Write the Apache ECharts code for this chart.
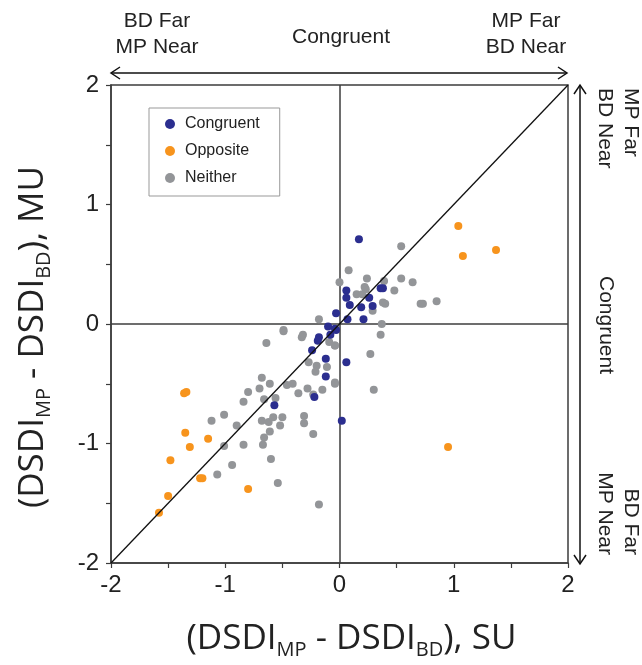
<!DOCTYPE html>
<html>
<head>
<meta charset="utf-8">
<script src="https://cdn.jsdelivr.net/npm/echarts@6/dist/echarts.min.js"></script>
<style>html,body{margin:0;padding:0;background:#fff}#c{width:642px;height:665px}</style>
</head>
<body>
<div id="c"></div>
<script>
const congruentX = [0.17,0.06,0.06,0.09,0.36,0.38,0.26,0.19,0.29,-0.03,0.07,0.21,-0.10,-0.03,-0.18,-0.19,-0.24,-0.12,0.06,-0.12,-0.57,-0.22,0.02,-0.08,-0.04];
const congruentY = [0.71,0.28,0.22,0.16,0.30,0.30,0.22,0.14,0.15,0.09,0.04,0.04,-0.02,-0.05,-0.11,-0.14,-0.22,-0.29,-0.32,-0.44,-0.68,-0.61,-0.81,-0.09,-0.04];
const oppositeX = [1.04,1.37,1.08,0.95,-1.36,-1.34,-1.35,-1.15,-1.31,-1.48,-1.22,-1.20,-0.80,-1.50,-1.58];
const oppositeY = [0.82,0.62,0.57,-1.03,-0.58,-0.57,-0.91,-0.96,-1.03,-1.14,-1.29,-1.29,-1.38,-1.44,-1.58];
const neitherX = [0.54,0.08,0.00,0.24,0.54,0.64,0.48,0.15,0.23,0.38,0.73,0.85,0.29,0.37,0.36,0.27,0.30,-0.18,-0.49,-0.32,-0.33,-0.64,-0.09,-0.04,-0.11,-0.27,-0.20,-0.21,-0.04,-0.15,-0.68,-0.61,-0.70,-0.80,-0.46,-0.41,-0.36,-0.28,-0.23,-0.66,-0.56,-0.84,-1.01,-1.12,-0.90,-0.68,-0.58,-0.50,-0.52,-0.61,-0.31,-0.31,-0.23,-0.66,-0.67,-1.01,-0.84,-0.60,-0.94,-1.07,-0.54,-0.18,-0.62,0.20,0.22,0.40,0.39,0.71,-0.49,-0.04,-0.04];
const neitherY = [0.65,0.45,0.35,0.38,0.38,0.35,0.28,0.25,0.29,0.18,0.17,0.19,0.11,0.00,-0.09,-0.25,-0.55,0.04,-0.06,-0.09,-0.11,-0.16,-0.15,-0.18,-0.36,-0.32,-0.35,-0.40,-0.50,-0.55,-0.45,-0.50,-0.54,-0.57,-0.51,-0.50,-0.58,-0.54,-0.59,-0.63,-0.62,-0.65,-0.76,-0.81,-0.85,-0.81,-0.78,-0.78,-0.85,-0.90,-0.77,-0.83,-0.92,-0.95,-1.01,-1.02,-1.01,-1.13,-1.18,-1.26,-1.33,-1.51,-0.82,0.25,0.31,0.17,0.36,0.17,-0.05,-0.18,-0.49];
const diagX = [-2, 2];
const diagY = [-2, 2];
const tickLabels = ['-2','-1','0','1','2'];
const seriesNames = ['Congruent','Opposite','Neither'];

const zip = (a, b) => a.map((v, i) => [v, b[i]]);
const axisFont = 'Liberation Sans, Arial, sans-serif';
const titleFont = 'Open Sans, Noto Sans, sans-serif';
const labelFmt = v => { const s = String(Math.round(v * 10) / 10); return tickLabels.includes(s) ? s : ''; };
const axisCommon = {
  type: 'value', min: -2, max: 2, interval: 0.5,
  axisLine: { show: true, onZero: false, lineStyle: { color: '#3c3c3c', width: 1.5 } },
  axisTick: { show: true, inside: false, length: 5, lineStyle: { color: '#3c3c3c', width: 1.2 } },
  splitLine: { show: false },
  axisLabel: { formatter: labelFmt, fontFamily: axisFont, fontSize: 24, color: '#222' }
};
const rich = {
  a: { fontFamily: titleFont, fontSize: 35, lineHeight: 42, color: '#222' },
  s: { fontFamily: titleFont, fontSize: 20, lineHeight: 16, verticalAlign: 'bottom', color: '#222' }
};

const chart = echarts.init(document.getElementById('c'), null, { renderer: 'canvas' });
chart.setOption({
  animation: false,
  backgroundColor: '#fff',
  grid: { left: 111, right: 74, top: 85, bottom: 100, show: true, borderColor: '#3c3c3c', borderWidth: 1.5, backgroundColor: 'transparent' },
  legend: {
    data: seriesNames, orient: 'vertical', left: 149, top: 108,
    icon: 'circle', itemWidth: 10, itemHeight: 10, itemGap: 11,
    padding: [8, 20, 10, 16],
    borderColor: '#999', borderWidth: 1, backgroundColor: '#fff',
    textStyle: { fontFamily: axisFont, fontSize: 16, lineHeight: 16, color: '#222', padding: [0, 0, 0, 5] }
  },
  xAxis: Object.assign({}, axisCommon, {
    axisLabel: Object.assign({}, axisCommon.axisLabel, { margin: 10 }),
    name: '{a|(DSDI}{s|MP}{a| - DSDI}{s|BD}{a|), SU}', nameLocation: 'middle', nameGap: 55,
    nameTextStyle: { rich: rich, padding: [0, 0, 0, 24] }
  }),
  yAxis: Object.assign({}, axisCommon, {
    axisLabel: Object.assign({}, axisCommon.axisLabel, { margin: 12 }),
    name: '{a|(DSDI}{s|MP}{a| - DSDI}{s|BD}{a|), MU}', nameLocation: 'middle', nameGap: 57,
    nameTextStyle: { rich: rich, padding: [0, 26, 0, 0] }
  }),
  series: [
    { name: 'Congruent', type: 'scatter', z: 3, symbolSize: 8, itemStyle: { color: '#2B2E8F', opacity: 1 }, data: zip(congruentX, congruentY) },
    { name: 'Opposite', type: 'scatter', z: 4, symbolSize: 8, itemStyle: { color: '#F7941D', opacity: 1 }, data: zip(oppositeX, oppositeY) },
    { name: 'Neither', type: 'scatter', z: 2, symbolSize: 8, itemStyle: { color: '#939598', opacity: 1 }, data: zip(neitherX, neitherY),
      markLine: { silent: true, symbol: 'none', label: { show: false }, lineStyle: { color: '#3c3c3c', width: 1.5, type: 'solid' }, z: 1,
        data: [{ xAxis: 0 }, { yAxis: 0 }] } },
    { name: 'diag', type: 'line', z: 5, symbol: 'none', lineStyle: { color: '#111', width: 1.3 }, data: zip(diagX, diagY) }
  ],
  graphic: [
    { type: 'line', shape: { x1: 111, y1: 73, x2: 567, y2: 73 }, style: { stroke: '#111', lineWidth: 1.5 } },
    { type: 'polyline', shape: { points: [[120, 67], [111, 73], [120, 79]] }, style: { stroke: '#111', lineWidth: 1.5, fill: null } },
    { type: 'polyline', shape: { points: [[558, 67], [567, 73], [558, 79]] }, style: { stroke: '#111', lineWidth: 1.5, fill: null } },
    { type: 'line', shape: { x1: 580, y1: 85, x2: 580, y2: 564 }, style: { stroke: '#111', lineWidth: 1.5 } },
    { type: 'polyline', shape: { points: [[574, 94], [580, 85], [586, 94]] }, style: { stroke: '#111', lineWidth: 1.5, fill: null } },
    { type: 'polyline', shape: { points: [[574, 555], [580, 564], [586, 555]] }, style: { stroke: '#111', lineWidth: 1.5, fill: null } },
    { type: 'text', x: 157, y: 34, style: { text: 'BD Far\nMP Near', fontFamily: axisFont, fontSize: 21, lineHeight: 26, align: 'center', verticalAlign: 'middle', fill: '#222' } },
    { type: 'text', x: 341, y: 37, style: { text: 'Congruent', fontFamily: axisFont, fontSize: 21, align: 'center', verticalAlign: 'middle', fill: '#222' } },
    { type: 'text', x: 526, y: 34, style: { text: 'MP Far\nBD Near', fontFamily: axisFont, fontSize: 21, lineHeight: 26, align: 'center', verticalAlign: 'middle', fill: '#222' } },
    { type: 'text', x: 618, y: 88, rotation: -Math.PI / 2, style: { text: 'MP Far\nBD Near', fontFamily: axisFont, fontSize: 21, lineHeight: 26, align: 'left', verticalAlign: 'middle', fill: '#222' } },
    { type: 'text', x: 606, y: 325, rotation: -Math.PI / 2, style: { text: 'Congruent', fontFamily: axisFont, fontSize: 21, align: 'center', verticalAlign: 'middle', fill: '#222' } },
    { type: 'text', x: 618, y: 555, rotation: -Math.PI / 2, style: { text: 'BD Far\nMP Near', fontFamily: axisFont, fontSize: 21, lineHeight: 26, align: 'right', verticalAlign: 'middle', fill: '#222' } }
  ]
});
</script>
</body>
</html>
